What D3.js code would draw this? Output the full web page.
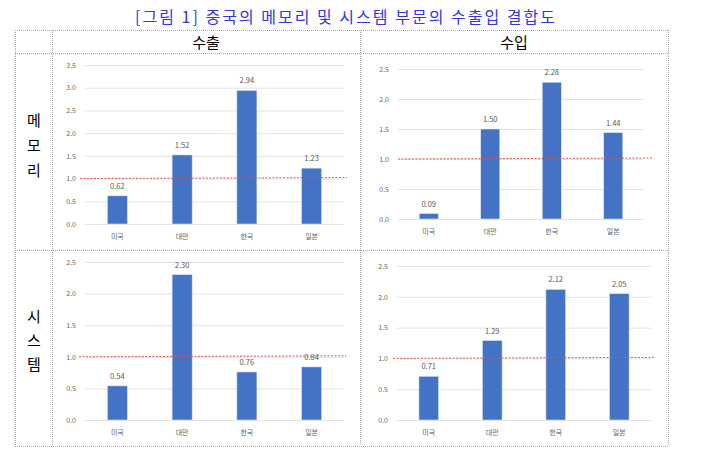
<!DOCTYPE html>
<html><head><meta charset="utf-8">
<script src="https://cdn.jsdelivr.net/npm/d3@7"></script>
<style>
body{margin:0;background:#fff;}
text{font-family:"Noto Sans CJK KR","Noto Sans",sans-serif;}
</style></head>
<body><svg id="c" width="710" height="463"></svg>
<script>
const title = "[그림 1] 중국의 메모리 및 시스템 부문의 수출입 결합도";
const colHeaders = ["수출", "수입"];
const rowHeaders = ["메모리", "시스템"];
const categories = ["미국", "대만", "한국", "일본"];
const memoryExport = [0.62, 1.52, 2.94, 1.23];
const memoryImport = [0.09, 1.50, 2.28, 1.44];
const systemExport = [0.54, 2.30, 0.76, 0.84];
const systemImport = [0.71, 1.29, 2.12, 2.05];
const yTicksMemExport = [0, 0.5, 1.0, 1.5, 2.0, 2.5, 3.0, 3.5];
const yTicksDefault = [0, 0.5, 1.0, 1.5, 2.0, 2.5];
const referenceValue = 1.0;

const svg = d3.select("#c");

svg.append("text").attr("x", 135).attr("y", 23)
  .attr("textLength", 420).attr("lengthAdjust", "spacing")
  .attr("font-size", 16).attr("fill", "#3434e8").attr("font-weight", 400).text(title);

// table grid
const tx = [15, 52, 360, 668];
const ty = [30, 53, 250, 446];
const grid = svg.append("g").attr("stroke", "#aaa").attr("stroke-width", 1).attr("stroke-dasharray", "1,1");
tx.forEach(x => grid.append("line").attr("x1", x + 0.5).attr("x2", x + 0.5).attr("y1", ty[0]).attr("y2", ty[3]));
ty.forEach(y => grid.append("line").attr("y1", y + 0.5).attr("y2", y + 0.5).attr("x1", tx[0]).attr("x2", tx[3]));

colHeaders.forEach((h, i) => {
  svg.append("text").attr("x", (tx[i + 1] + tx[i + 2]) / 2).attr("y", 48).attr("text-anchor", "middle")
    .attr("font-size", 15).attr("fill", "#000").text(h);
});
const rowYs = [[120, 145, 170], [316, 340, 364]];
rowHeaders.forEach((h, i) => {
  Array.from(h).forEach((ch, j) => {
    svg.append("text").attr("x", 34).attr("y", rowYs[i][j] + 6).attr("text-anchor", "middle")
      .attr("font-size", 15).attr("fill", "#000").text(ch);
  });
});

function panel(values, ticks, box) {
  const g = svg.append("g");
  const y = d3.scaleLinear().domain([0, d3.max(ticks)]).range([box.y0, box.y1]);
  const x = d3.scaleBand().domain(categories).range([box.x0, box.x1]).paddingInner(0.69).paddingOuter(0.345);
  const ga = g.append("g").attr("transform", `translate(${box.x0},0)`)
    .call(d3.axisLeft(y).tickValues(ticks).tickFormat(d3.format(".1f")).tickSize(-(box.x1 - box.x0)).tickPadding(9));
  ga.select(".domain").remove();
  ga.selectAll(".tick line").attr("stroke", "#e3e3e3");
  ga.selectAll(".tick text").attr("fill", "#666").attr("font-size", 7).attr("font-family", "'Noto Sans CJK KR',sans-serif");

  g.selectAll("rect.bar").data(values).join("rect").attr("class", "bar")
    .attr("x", (d, i) => x(categories[i])).attr("width", x.bandwidth())
    .attr("y", d => y(d)).attr("height", d => y(0) - y(d))
    .attr("fill", "#4472c4").attr("stroke", "#dbe5f5").attr("stroke-width", 0.6);
  g.selectAll("text.val").data(values).join("text").attr("class", "val")
    .attr("x", (d, i) => x(categories[i]) + x.bandwidth() / 2).attr("y", d => y(d) - 7)
    .attr("text-anchor", "middle").attr("font-size", 7.5).attr("fill", "#595959").text(d => d.toFixed(2));
  g.selectAll("text.cat").data(categories).join("text").attr("class", "cat")
    .attr("x", d => x(d) + x.bandwidth() / 2).attr("y", y(0) + 15)
    .attr("text-anchor", "middle").attr("font-size", 7).attr("fill", "#666").text(d => d);
  g.append("line").attr("x1", box.rx0).attr("x2", box.rx1).attr("y1", y(referenceValue)).attr("y2", y(referenceValue) - 1)
    .attr("stroke", "#e0524f").attr("stroke-width", 1).attr("stroke-dasharray", "2,1.5");
}

panel(memoryExport, yTicksMemExport, {x0: 85, x1: 344, y0: 224, y1: 65, rx0: 80, rx1: 347});
panel(memoryImport, yTicksDefault, {x0: 398, x1: 644, y0: 219, y1: 69, rx0: 398, rx1: 653});
panel(systemExport, yTicksDefault, {x0: 85, x1: 344, y0: 420, y1: 262, rx0: 79, rx1: 346});
panel(systemImport, yTicksDefault, {x0: 397, x1: 651, y0: 420, y1: 266, rx0: 393, rx1: 655});
</script></body></html>
